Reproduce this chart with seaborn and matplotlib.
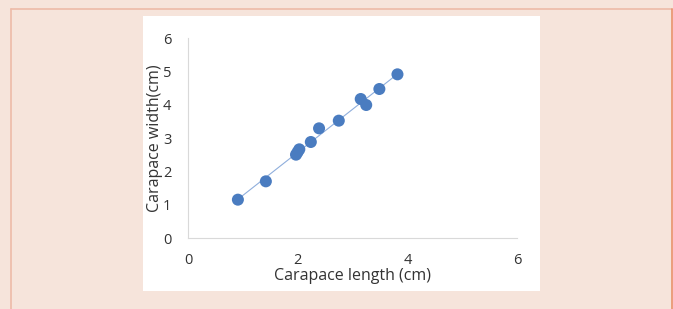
import numpy as np
import pandas as pd
import seaborn as sns
import matplotlib.pyplot as plt
from matplotlib.patches import Rectangle
from matplotlib.lines import Line2D

carapace_length = [0.91, 1.42, 1.97, 2.00, 2.03, 2.24, 2.39, 2.75, 3.15, 3.25, 3.49, 3.82]
carapace_width = [1.15, 1.70, 2.50, 2.58, 2.66, 2.88, 3.29, 3.52, 4.17, 3.99, 4.47, 4.91]
x_ticks = [0, 2, 4, 6]
y_ticks = [0, 1, 2, 3, 4, 5, 6]

df = pd.DataFrame({"length": carapace_length, "width": carapace_width})

sns.set_theme(style="white")
plt.rcParams['font.family'] = ['Open Sans', 'DejaVu Sans']

fig = plt.figure(figsize=(6.73, 3.09), dpi=100)
fig.patch.set_facecolor("#F6E4DB")

W, H = 673, 309
# white chart panel (behind the axes)
fig.patches.append(Rectangle((143 / W, 1 - 291 / H), (540 - 143) / W, (291 - 16) / H,
                             transform=fig.transFigure, facecolor="white", edgecolor="none", zorder=-5))
# box border
fig.lines.append(Line2D([11 / W, 11 / W], [0, 1 - 9 / H], transform=fig.transFigure, color="#EDBBA8", lw=1.2, zorder=-4))
fig.lines.append(Line2D([11 / W, 672 / W], [1 - 9 / H, 1 - 9 / H], transform=fig.transFigure, color="#EDBBA8", lw=1.2, zorder=-4))
fig.lines.append(Line2D([672 / W, 672 / W], [0, 1 - 9 / H], transform=fig.transFigure, color="#E9926C", lw=1.2, zorder=-4))

ax = fig.add_axes([188 / W, 1 - 238 / H, (517 - 188) / W, (238 - 38) / H])
ax.set_zorder(1)
ax.set_facecolor("white")

# linear trendline over the data range
slope, intercept = np.polyfit(df["length"], df["width"], 1)
xs = np.array([df["length"].min(), df["length"].max()])
ax.plot(xs, slope * xs + intercept, color="#8FAEDC", lw=0.8, zorder=1)

sns.scatterplot(data=df, x="length", y="width", ax=ax, color="#4A7CC0",
                s=75, edgecolor="none", zorder=2)

ax.set_xlim(0, 6)
ax.set_ylim(0, 6)
ax.set_xticks(x_ticks)
ax.set_yticks(y_ticks)
ax.tick_params(length=0, labelsize=10.5, colors="#333333")
ax.tick_params(axis="x", pad=11)
ax.tick_params(axis="y", pad=12)

for side in ["top", "right"]:
    ax.spines[side].set_visible(False)
for side in ["left", "bottom"]:
    ax.spines[side].set_color("#D9D9D9")
    ax.spines[side].set_linewidth(0.8)

ax.set_xlabel("Carapace length (cm)", fontsize=11.5, color="#333333", labelpad=0)
ax.set_ylabel("Carapace width(cm)", fontsize=11.5, color="#333333", labelpad=0)

fig.savefig("out.png", dpi=100, facecolor=fig.get_facecolor())
